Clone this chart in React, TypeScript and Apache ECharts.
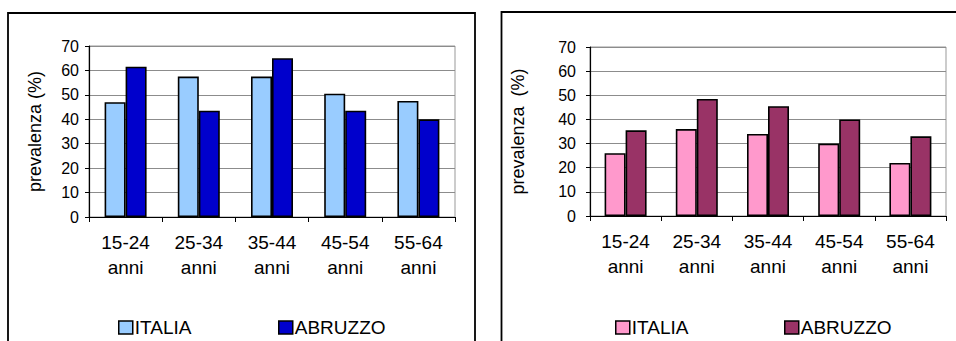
import React, { useEffect, useRef } from "react";
import * as echarts from "echarts";

// Age groups on the x axis
const categories = ["15-24\nanni", "25-34\nanni", "35-44\nanni", "45-54\nanni", "55-64\nanni"];
const yTicks = { min: 0, max: 70, interval: 10 };

// Left panel values (%)
const italiaLeft = [47, 57.5, 57.5, 50.5, 47.5];
const abruzzoLeft = [61.5, 43.5, 65, 43.5, 40];

// Right panel values (%)
const italiaRight = [26, 36, 34, 30, 22];
const abruzzoRight = [35.5, 48.5, 45.5, 40, 33];

const FONT = "'Liberation Sans', Arial, sans-serif";

type PanelProps = {
  italia: number[];
  abruzzo: number[];
  colors: [string, string];
  yName: string;
  grid: { left: number; top: number; width: number; height: number };
  labelMargin: number;
  nameGap: number;
  frame: { x: number; y: number; width: number; height: number };
  legendLeft: [number, number];
  offsetX: number;
};

function Panel(p: PanelProps) {
  const ref = useRef<HTMLDivElement>(null);
  useEffect(() => {
    if (!ref.current) return;
    const chart = echarts.init(ref.current, undefined, { renderer: "svg" });
    const barStyle = (c: string) => ({ color: c, borderColor: "#000", borderWidth: 1.6 });
    const legendText = { fontSize: 19, color: "#000", fontFamily: FONT, padding: [0, 0, 0, -3] };
    chart.setOption({
      animation: false,
      backgroundColor: "#fff",
      textStyle: { fontFamily: FONT },
      graphic: [
        {
          type: "rect",
          shape: { ...p.frame },
          style: { fill: "none", stroke: "#000", lineWidth: 1.8 },
          z: -1,
        },
      ],
      grid: {
        ...p.grid,
        show: true,
        borderColor: "#999",
        borderWidth: 1,
        containLabel: false,
      },
      legend: [
        {
          data: [{ name: "ITALIA" }],
          left: p.legendLeft[0],
          top: 318,
          padding: 0,
          itemWidth: 14,
          itemHeight: 13,
          icon: "rect",
          itemStyle: { borderColor: "#000", borderWidth: 1.5 },
          textStyle: legendText,
        },
        {
          data: [{ name: "ABRUZZO" }],
          left: p.legendLeft[1],
          top: 318,
          padding: 0,
          itemWidth: 14,
          itemHeight: 13,
          icon: "rect",
          itemStyle: { borderColor: "#000", borderWidth: 1.5 },
          textStyle: legendText,
        },
      ],
      xAxis: {
        type: "category",
        data: categories,
        axisLine: { lineStyle: { color: "#000", width: 1.2 } },
        axisTick: { show: true, length: 5, lineStyle: { color: "#000" } },
        axisLabel: {
          color: "#000",
          fontSize: 19,
          lineHeight: 25,
          margin: 13,
          fontFamily: FONT,
          interval: 0,
        },
      },
      yAxis: {
        type: "value",
        min: yTicks.min,
        max: yTicks.max,
        interval: yTicks.interval,
        name: p.yName,
        nameLocation: "middle",
        nameGap: p.nameGap,
        nameTextStyle: { fontSize: 18, color: "#000", fontFamily: FONT },
        axisLine: { show: true, lineStyle: { color: "#000", width: 1.2 } },
        axisTick: { show: true, length: 4, lineStyle: { color: "#000" } },
        axisLabel: { color: "#000", fontSize: 16, margin: p.labelMargin, fontFamily: FONT },
        splitLine: { lineStyle: { color: "#8c8c8c", width: 1 } },
      },
      series: [
        {
          name: "ITALIA",
          type: "bar",
          data: p.italia,
          barWidth: 21,
          barGap: "0%",
          itemStyle: barStyle(p.colors[0]),
        },
        {
          name: "ABRUZZO",
          type: "bar",
          data: p.abruzzo,
          barWidth: 21,
          barGap: "0%",
          itemStyle: barStyle(p.colors[1]),
        },
      ],
    });
    return () => chart.dispose();
  }, []);
  return (
    <div
      ref={ref}
      style={{ position: "absolute", left: p.offsetX, top: 0, width: 478, height: 341 }}
    />
  );
}

export default function App() {
  return (
    <div style={{ position: "fixed", left: 0, top: 0, width: 956, height: 341, background: "#fff", overflow: "hidden" }}>
      <Panel
        italia={italiaLeft}
        abruzzo={abruzzoLeft}
        colors={["#99CCFF", "#0000CC"]}
        yName="prevalenza (%)"
        grid={{ left: 89, top: 46, width: 366, height: 171 }}
        labelMargin={10}
        nameGap={45}
        frame={{ x: 8, y: 13, width: 467, height: 400 }}
        legendLeft={[118, 278]}
        offsetX={0}
      />
      <Panel
        italia={italiaRight}
        abruzzo={abruzzoRight}
        colors={["#FF99CC", "#993366"]}
        yName="prevalenza  (%)"
        grid={{ left: 112, top: 47, width: 356, height: 169 }}
        labelMargin={14}
        nameGap={63}
        frame={{ x: 23.5, y: 12, width: 500, height: 400 }}
        legendLeft={[137, 306]}
        offsetX={478}
      />
    </div>
  );
}
